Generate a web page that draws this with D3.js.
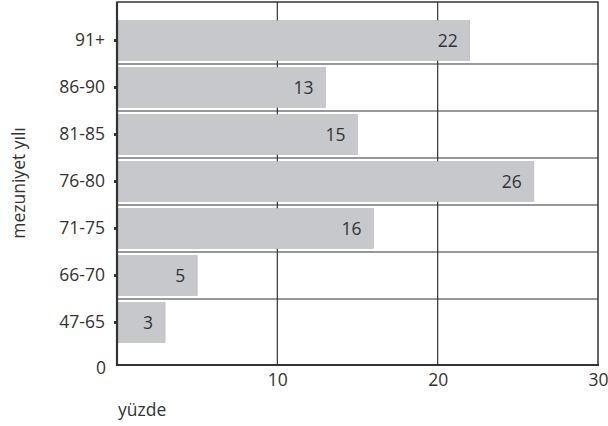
<!DOCTYPE html>
<html><head><meta charset="utf-8">
<script src="https://cdn.jsdelivr.net/npm/d3@7"></script>
<style>body{margin:0;background:#fff;}svg{display:block;font-family:"Open Sans","DejaVu Sans",sans-serif;}</style>
</head><body>
<svg id="c" width="608" height="426"></svg>
<script>
const categories = ["91+","86-90","81-85","76-80","71-75","66-70","47-65"];
const values = [22,13,15,26,16,5,3];
const xTicks = [0,10,20,30];
const xTitle = "yüzde";
const yTitle = "mezuniyet yılı";

const FS = 17.5, TC = "#333";
const svg = d3.select("#c");
const L = 117, R = 598, T = 2, B = 365;
const x = d3.scaleLinear().domain([0,30]).range([L,R]);
const y = d3.scaleBand().domain(categories).range([17,346]).paddingInner(0.15).paddingOuter(0.075);
const step = y.step();

// horizontal gridlines at band boundaries
const bounds = categories.slice(1).map(c => y(c) - y.paddingInner()*step/2);
svg.append("g").selectAll("line").data(bounds).join("line")
  .attr("x1",L).attr("x2",R).attr("y1",d=>d).attr("y2",d=>d)
  .attr("stroke","#333").attr("stroke-width",1.2);
// vertical gridlines
svg.append("g").selectAll("line").data(xTicks.slice(1,-1)).join("line")
  .attr("x1",d=>x(d)).attr("x2",d=>x(d)).attr("y1",T).attr("y2",B)
  .attr("stroke","#333").attr("stroke-width",1.2);

// bars
svg.append("g").selectAll("rect").data(values).join("rect")
  .attr("x",x(0)+1).attr("y",(d,i)=>y(categories[i]))
  .attr("width",d=>x(d)-x(0)-1).attr("height",y.bandwidth())
  .attr("fill","#c6c8cc").attr("stroke","#b4b6ba").attr("stroke-width",0.6);
svg.append("g").selectAll("text").data(values).join("text")
  .attr("x",d=>x(d)-12).attr("y",(d,i)=>y(categories[i])+y.bandwidth()/2)
  .attr("dy","0.35em").attr("text-anchor","end")
  .style("font-size",FS+"px").attr("fill",TC).text(d=>d);

// frame
svg.append("rect").attr("x",L).attr("y",T).attr("width",R-L).attr("height",B-T)
  .attr("fill","none").attr("stroke","#333").attr("stroke-width",1.5);
svg.append("line").attr("x1",L).attr("x2",L).attr("y1",T).attr("y2",B+1).attr("stroke","#333").attr("stroke-width",2.2);
svg.append("line").attr("x1",L-1).attr("x2",R+1).attr("y1",B).attr("y2",B).attr("stroke","#333").attr("stroke-width",2.2);

// y axis
const yAxis = d3.axisLeft(y).tickSize(3).tickPadding(9);
const gy = svg.append("g").attr("transform",`translate(${L},0)`).call(yAxis)
  .attr("font-size",null).attr("font-family",null);
gy.select(".domain").remove();
gy.selectAll(".tick line").attr("stroke","#333").attr("stroke-width",3);
gy.selectAll(".tick text").style("font-size",FS+"px").attr("fill",TC);
svg.append("text").attr("x",L-11).attr("y",B+3).attr("dy","0.35em").attr("text-anchor","end")
  .style("font-size",FS+"px").attr("fill",TC).text("0");

// x axis
const xAxis = d3.axisBottom(x).tickValues(xTicks.slice(1)).tickSize(0).tickPadding(9);
const gx = svg.append("g").attr("transform",`translate(0,${B})`).call(xAxis)
  .attr("font-size",null).attr("font-family",null);
gx.select(".domain").remove();
gx.selectAll(".tick text").style("font-size",FS+"px").attr("fill",TC);

svg.append("text").attr("x",L+1).attr("y",416).style("font-size",FS+"px").attr("fill",TC).text(xTitle);
svg.append("text").attr("transform",`translate(25,183) rotate(-90)`).attr("text-anchor","middle")
  .style("font-size",FS+"px").attr("fill",TC).text(yTitle);
</script>
</body></html>
